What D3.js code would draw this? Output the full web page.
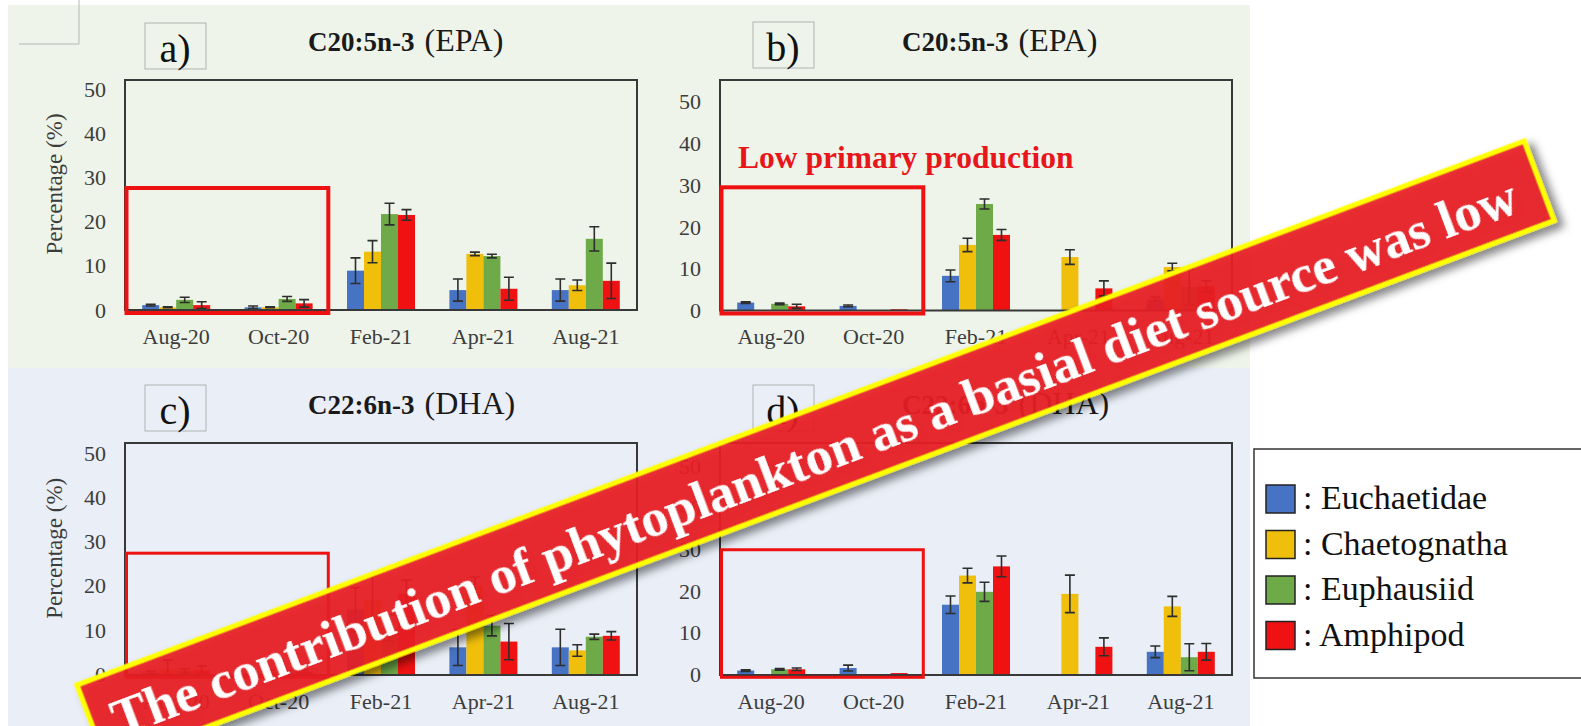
<!DOCTYPE html>
<html>
<head>
<meta charset="utf-8">
<script src="https://cdn.jsdelivr.net/npm/d3@7"></script>
<style>
body { margin: 0; background: #fff; }
svg { display: block; }
</style>
</head>
<body>
<script>
// categories and series
var months = ["Aug-20", "Oct-20", "Feb-21", "Apr-21", "Aug-21"];
var taxa = ["Euchaetidae", "Chaetognatha", "Euphausiid", "Amphipod"];
var taxaColors = ["#4673c3", "#efbf0c", "#6eaa48", "#f01212"];
var yTicks = [0, 10, 20, 30, 40, 50];

// a) EPA  (rows = taxa, cols = months)
var epaA_mean = [[1.1, 0.6, 8.9, 4.5, 4.5], [0.6, 0.6, 13.2, 12.7, 5.6], [2.3, 2.5, 21.7, 12.2, 16.1], [1.1, 1.5, 21.5, 4.8, 6.6]];
var epaA_sd   = [[0.2, 0.3, 2.9, 2.5, 2.5], [0.1, 0.1, 2.5, 0.4, 1.2], [0.6, 0.55, 2.45, 0.4, 2.75], [0.75, 0.85, 1.2, 2.6, 4.0]];
// b) EPA
var epaB_mean = [[1.9, 1.1, 8.3, 0, 2.7], [0, 0, 15.7, 12.8, 10.4], [1.6, 0, 25.5, 0, 5.6], [1.0, 0.3, 18.1, 5.3, 5.8]];
var epaB_sd   = [[0.2, 0.2, 1.4, 0, 0.5], [0, 0, 1.6, 1.75, 0.9], [0.2, 0, 1.2, 0, 4.3], [0.5, 0, 1.3, 1.8, 1.3]];
// c) DHA
var dhaC_mean = [[0.4, 0.3, 14.6, 6.1, 6.1], [1.2, 0.6, 16.8, 20.0, 5.4], [0.8, 0.5, 10.5, 11.0, 8.5], [0.9, 0.6, 18.3, 7.4, 8.7]];
var dhaC_sd   = [[0.3, 0.2, 5.0, 4.1, 4.1], [2.0, 0.3, 5.5, 2.0, 1.3], [0.4, 0.3, 3.0, 2.3, 0.6], [1.0, 0.3, 3.0, 4.1, 0.95]];
// d) DHA
var dhaD_mean = [[0.9, 1.5, 16.7, 0, 5.4], [0, 0, 23.7, 19.3, 16.3], [1.2, 0, 19.8, 0, 4.1], [1.2, 0.3, 25.9, 6.6, 5.4]];
var dhaD_sd   = [[0.2, 0.7, 2.1, 0, 1.4], [0, 0, 1.75, 4.5, 2.4], [0.2, 0, 2.3, 0, 3.25], [0.3, 0, 2.5, 2.15, 2.0]];

var bannerText = "The contribution of phytoplankton as a basial diet source was low";
var serif = "'Liberation Serif', 'Times New Roman', serif";

var svg = d3.select("body").append("svg")
    .attr("width", 1581)
    .attr("height", 726);

var defs = svg.append("defs");
var shadow = defs.append("filter").attr("id", "bannerShadow")
    .attr("x", "-5%").attr("y", "-40%").attr("width", "110%").attr("height", "180%");
shadow.append("feDropShadow")
    .attr("dx", 5).attr("dy", 7).attr("stdDeviation", 4)
    .attr("flood-color", "#000").attr("flood-opacity", 0.5);

// slide backgrounds
svg.append("rect").attr("x", 8).attr("y", 5).attr("width", 1242).attr("height", 363).attr("fill", "#eef4e9");
svg.append("rect").attr("x", 8).attr("y", 368).attr("width", 1242).attr("height", 358).attr("fill", "#e9eef7");

// crop mark top left
svg.append("path").attr("d", "M79,0 L79,44 L19,44").attr("fill", "none").attr("stroke", "#b4b9b4").attr("stroke-width", 1);

var panels = [
    {letter: "a)", acid: "C20:5n-3", name: "(EPA)", mean: epaA_mean, sd: epaA_sd,
     left: 125, right: 637, top: 80, bottom: 310, y0: 310, y50: 89, yTitle: true,
     boxX: 145, boxY: 23, titleX: 308, titleY: 51, boxTop: 27.6},
    {letter: "b)", acid: "C20:5n-3", name: "(EPA)", mean: epaB_mean, sd: epaB_sd,
     left: 720, right: 1232, top: 80, bottom: 310.5, y0: 310.5, y50: 101.7, yTitle: false,
     boxX: 753, boxY: 22, titleX: 902, titleY: 51, boxTop: 29.5},
    {letter: "c)", acid: "C22:6n-3", name: "(DHA)", mean: dhaC_mean, sd: dhaC_sd,
     left: 125, right: 637, top: 443, bottom: 675, y0: 674.3, y50: 453.3, yTitle: true,
     boxX: 145, boxY: 385, titleX: 308, titleY: 414, boxTop: 27.4},
    {letter: "d)", acid: "C22:6n-3", name: "(DHA)", mean: dhaD_mean, sd: dhaD_sd,
     left: 720, right: 1232, top: 443, bottom: 675, y0: 674.3, y50: 466, yTitle: false,
     boxX: 753, boxY: 385, titleX: 902, titleY: 414, boxTop: 29.9}
];

panels.forEach(drawPanel);

function drawPanel(p) {
    var g = svg.append("g");

    var x = d3.scaleBand().domain(months).range([p.left, p.right]).paddingInner(0.336).paddingOuter(0.168);
    var xs = d3.scaleBand().domain(taxa).range([0, x.bandwidth()]);
    var y = d3.scaleLinear().domain([0, 50]).range([p.y0, p.y50]);

    // letter box and title
    g.append("rect").attr("x", p.boxX).attr("y", p.boxY).attr("width", 61).attr("height", 46)
        .attr("fill", "none").attr("stroke", "#b0b4b0").attr("stroke-width", 1);
    g.append("text").attr("x", p.boxX + 30).attr("y", p.boxY + 39)
        .attr("text-anchor", "middle").attr("font-family", serif).attr("font-size", 40)
        .attr("fill", "#111").text(p.letter);
    var t = g.append("text").attr("x", p.titleX).attr("y", p.titleY)
        .attr("font-family", serif).attr("fill", "#1a1a1a");
    t.append("tspan").attr("font-weight", "bold").attr("font-size", 27).text(p.acid);
    t.append("tspan").attr("font-size", 32).attr("dx", 10).text(p.name);

    // bars
    taxa.forEach(function(taxon, i) {
        months.forEach(function(m, j) {
            var v = p.mean[i][j];
            if (v <= 0) return;
            g.append("rect")
                .attr("x", x(m) + xs(taxon))
                .attr("y", y(v))
                .attr("width", xs.bandwidth())
                .attr("height", y(0) - y(v))
                .attr("fill", taxaColors[i]);
        });
    });

    // error bars
    taxa.forEach(function(taxon, i) {
        months.forEach(function(m, j) {
            var v = p.mean[i][j], e = p.sd[i][j];
            if (v <= 0 || e <= 0) return;
            var cx = x(m) + xs(taxon) + xs.bandwidth() / 2;
            var lo = Math.max(0, v - e);
            g.append("path")
                .attr("d", "M" + cx + "," + y(v + e) + "V" + y(lo) +
                    "M" + (cx - 5) + "," + y(v + e) + "H" + (cx + 5) +
                    "M" + (cx - 5) + "," + y(lo) + "H" + (cx + 5))
                .attr("fill", "none").attr("stroke", "#2e2e2e").attr("stroke-width", 1.6);
        });
    });

    // frame of the plot area
    g.append("rect").attr("x", p.left).attr("y", p.top)
        .attr("width", p.right - p.left).attr("height", p.bottom - p.top)
        .attr("fill", "none").attr("stroke", "#383838").attr("stroke-width", 2);

    // axes
    var yAxis = d3.axisLeft(y).tickValues(yTicks).tickSize(0).tickPadding(19).tickFormat(d3.format("d"));
    var ya = g.append("g").attr("transform", "translate(" + p.left + ",0)").call(yAxis);
    ya.select(".domain").remove();
    ya.selectAll("text").attr("font-family", serif).attr("font-size", 22).attr("fill", "#3c3c3c");

    var xAxis = d3.axisBottom(x).tickSize(0).tickPadding(18);
    var xa = g.append("g").attr("transform", "translate(0," + p.bottom + ")").call(xAxis);
    xa.select(".domain").remove();
    xa.selectAll("text").attr("font-family", serif).attr("font-size", 22).attr("fill", "#3c3c3c");

    if (p.yTitle) {
        g.append("text")
            .attr("transform", "translate(" + (p.left - 63) + "," + (p.y0 - 126) + ") rotate(-90)")
            .attr("text-anchor", "middle").attr("font-family", serif).attr("font-size", 23)
            .attr("fill", "#3c3c3c").text("Percentage (%)");
    }

    // red highlight box round the low production months
    g.append("rect")
        .attr("x", p.left + 1.5).attr("y", y(p.boxTop))
        .attr("width", x("Feb-21") - x.step() * 0.168 - p.left - 3)
        .attr("height", y(0) + 3 - y(p.boxTop))
        .attr("fill", "none").attr("stroke", "#ee1111").attr("stroke-width", p.top < 100 ? 4 : 3);
}

svg.append("text").attr("x", 738).attr("y", 168)
    .attr("font-family", serif).attr("font-weight", "bold").attr("font-size", 31.5)
    .attr("fill", "#e8151b").text("Low primary production");

// legend
var legend = svg.append("g");
legend.append("rect").attr("x", 1254).attr("y", 449).attr("width", 360).attr("height", 229)
    .attr("fill", "#fff").attr("stroke", "#333").attr("stroke-width", 1.5);
taxa.forEach(function(taxon, i) {
    legend.append("rect").attr("x", 1266).attr("y", 485 + i * 45.5).attr("width", 29).attr("height", 28)
        .attr("fill", taxaColors[i]).attr("stroke", "#222").attr("stroke-width", 1.5);
    legend.append("text").attr("x", 1303).attr("y", 509 + i * 45.5)
        .attr("font-family", serif).attr("font-size", 34).attr("fill", "#111").text(": " + taxon);
});

// diagonal banner
var banner = svg.append("g")
    .attr("transform", "translate(77,685) rotate(-20.6)")
    .attr("filter", "url(#bannerShadow)");
banner.append("rect").attr("x", 0).attr("y", 0).attr("width", 1546).attr("height", 85)
    .attr("fill", "rgba(234,28,34,0.9)").attr("stroke", "#ffff00").attr("stroke-width", 5);
banner.append("text").attr("x", 770).attr("y", 64)
    .attr("text-anchor", "middle").attr("font-family", serif).attr("font-weight", "bold")
    .attr("font-size", 53.5).attr("fill", "#fff").text(bannerText);
</script>
</body>
</html>
